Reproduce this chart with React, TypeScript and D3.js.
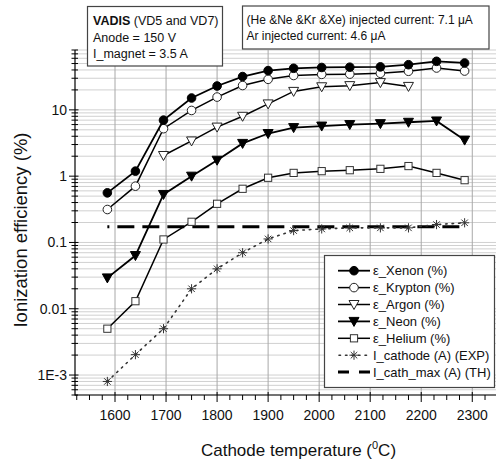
import React from "react";
import * as d3 from "d3";

const temps = [1585, 1640, 1695, 1750, 1800, 1850, 1900, 1950, 2005, 2060, 2120, 2175, 2230, 2285];
const argonTemps = [1695, 1750, 1800, 1850, 1900, 1950, 2005, 2060, 2120, 2175];
const xenon = [0.56, 1.19, 7.0, 15.1, 22.9, 31.8, 39.1, 42.4, 43.6, 44.0, 44.5, 48.0, 54.0, 51.0];
const krypton = [0.314, 0.706, 5.2, 9.8, 15.6, 23.3, 28.9, 33.0, 34.3, 34.6, 35.6, 38.2, 42.8, 38.5];
const argon = [2.05, 3.4, 5.5, 8.0, 12.3, 19.0, 22.3, 23.2, 25.8, 22.6];
const neon = [0.0292, 0.0634, 0.53, 1.0, 1.74, 3.12, 4.4, 5.4, 5.7, 6.0, 6.2, 6.5, 6.8, 3.5];
const helium = [0.005, 0.013, 0.111, 0.205, 0.383, 0.645, 0.946, 1.12, 1.19, 1.23, 1.29, 1.42, 1.12, 0.87];
const iCathode = [0.0008, 0.00203, 0.005, 0.02, 0.04, 0.07, 0.113, 0.151, 0.16, 0.166, 0.166, 0.166, 0.186, 0.198];
const iCathMax = [0.172, 0.172];
const iCathMaxTemps = [1585, 2285];

const xTicks = [1600, 1700, 1800, 1900, 2000, 2100, 2200, 2300];
const yTicks = [0.001, 0.01, 0.1, 1, 10];
const yTickLabels = ["1E-3", "0.01", "0.1", "1", "10"];

const legendLabels = [
  "ε_Xenon (%)",
  "ε_Krypton (%)",
  "ε_Argon (%)",
  "ε_Neon (%)",
  "ε_Helium (%)",
  "I_cathode (A) (EXP)",
  "I_cath_max (A) (TH)",
];

const FONT = "'Liberation Sans', Arial, Helvetica, sans-serif";

type MarkerKind = "circleFilled" | "circleOpen" | "triOpen" | "triFilled" | "squareOpen" | "star";

function Marker({ kind, x, y }: { kind: MarkerKind; x: number; y: number }) {
  if (kind === "circleFilled")
    return <circle cx={x} cy={y} r={4.3} fill="#000" stroke="#000" strokeWidth={1} />;
  if (kind === "circleOpen")
    return <circle cx={x} cy={y} r={4.3} fill="#fff" stroke="#222" strokeWidth={1} />;
  if (kind === "triOpen" || kind === "triFilled") {
    const p = `${x - 5},${y - 4} ${x + 5},${y - 4} ${x},${y + 5}`;
    return (
      <polygon
        points={p}
        fill={kind === "triFilled" ? "#000" : "#fff"}
        stroke={kind === "triFilled" ? "#000" : "#222"}
        strokeWidth={1}
      />
    );
  }
  if (kind === "squareOpen")
    return <rect x={x - 3.6} y={y - 3.6} width={7.2} height={7.2} fill="#fff" stroke="#333" strokeWidth={1} />;
  const r = 4.6;
  const d = r * Math.SQRT1_2;
  return (
    <g stroke="#333" strokeWidth={1}>
      <line x1={x - r} y1={y} x2={x + r} y2={y} />
      <line x1={x} y1={y - r} x2={x} y2={y + r} />
      <line x1={x - d} y1={y - d} x2={x + d} y2={y + d} />
      <line x1={x - d} y1={y + d} x2={x + d} y2={y - d} />
    </g>
  );
}

export default function App() {
  const W = 496;
  const H = 462;
  const left = 75;
  const right = 496;
  const top = 50;
  const bottom = 395;

  const x = d3.scaleLinear().domain([1521.6, 2346.5]).range([left, right]);
  const y = d3.scaleLog().domain([5e-4, 80]).range([bottom, top]);

  const line = d3
    .line<[number, number]>()
    .x((d) => x(d[0]))
    .y((d) => y(d[1]));

  const zip = (xs: number[], ys: number[]) => xs.map((t, i) => [t, ys[i]] as [number, number]);

  const series: { xs: number[]; ys: number[]; kind: MarkerKind; width: number }[] = [
    { xs: temps, ys: helium, kind: "squareOpen", width: 1.5 },
    { xs: temps, ys: neon, kind: "triFilled", width: 1.8 },
    { xs: argonTemps, ys: argon, kind: "triOpen", width: 1.5 },
    { xs: temps, ys: krypton, kind: "circleOpen", width: 1.5 },
    { xs: temps, ys: xenon, kind: "circleFilled", width: 1.8 },
  ];

  const minorVals: number[] = [];
  for (let e = -4; e <= 1; e++) {
    for (let m = 1; m <= 9; m++) {
      const v = m * Math.pow(10, e);
      if (v >= 5e-4 && v <= 80) minorVals.push(v);
    }
  }
  const xMinor = d3.range(1525, 2350, 25);

  const legendKinds: (MarkerKind | null)[] = ["circleFilled", "circleOpen", "triOpen", "triFilled", "squareOpen", "star", null];

  return (
    <svg width={W} height={H} style={{ display: "block", position: "absolute", left: 0, top: 0 }} fontFamily={FONT}>
      <rect x={0} y={0} width={W} height={H} fill="#fff" />
      {minorVals.map((v, i) => (
        <line key={"hg" + i} x1={left} x2={right} y1={y(v)} y2={y(v)} stroke="#d0d0d0" strokeWidth={1} />
      ))}
      {xTicks.map((t) => (
        <line key={"vg" + t} x1={x(t)} x2={x(t)} y1={top} y2={bottom} stroke="#a8a8a8" strokeWidth={1} />
      ))}

      <path
        d={line(zip(iCathMaxTemps, iCathMax)) || ""}
        fill="none"
        stroke="#000"
        strokeWidth={3}
        strokeDasharray="17 8"
        strokeDashoffset={15}
      />
      <path d={line(zip(temps, iCathode)) || ""} fill="none" stroke="#333" strokeWidth={1.6} strokeDasharray="1.5 5" strokeLinecap="round" />
      {temps.map((t, i) => (
        <Marker key={"ic" + i} kind="star" x={x(t)} y={y(iCathode[i])} />
      ))}

      {series.map((s, si) => (
        <g key={"s" + si}>
          <path d={line(zip(s.xs, s.ys)) || ""} fill="none" stroke="#000" strokeWidth={s.width} />
          {s.xs.map((t, i) => (
            <Marker key={i} kind={s.kind} x={x(t)} y={y(s.ys[i])} />
          ))}
        </g>
      ))}

      <line x1={left} x2={left} y1={top} y2={bottom + 0.5} stroke="#000" strokeWidth={1.2} />
      <line x1={left} x2={right} y1={bottom} y2={bottom} stroke="#000" strokeWidth={1.2} />
      {minorVals.map((v, i) => {
        const major = Math.abs(Math.log10(v) - Math.round(Math.log10(v))) < 1e-9;
        return (
          <line
            key={"yt" + i}
            x1={left - (major ? 6 : 3.5)}
            x2={left + (major ? 3.5 : 3)}
            y1={y(v)}
            y2={y(v)}
            stroke="#000"
            strokeWidth={1}
          />
        );
      })}
      {xMinor.map((t) => {
        const major = t % 100 === 0;
        return (
          <line key={"xt" + t} x1={x(t)} x2={x(t)} y1={bottom - (major ? 3 : 0)} y2={bottom + (major ? 7 : 5)} stroke="#000" strokeWidth={1} />
        );
      })}
      {xTicks.map((t) => (
        <text key={"xl" + t} x={x(t)} y={420} textAnchor="middle" fontSize={14} fill="#111">
          {t}
        </text>
      ))}
      {yTicks.map((v, i) => (
        <text key={"yl" + i} x={67} y={y(v) + 5} textAnchor="end" fontSize={14} fill="#111">
          {yTickLabels[i]}
        </text>
      ))}
      <text x={(left + right) / 2 + 13} y={456} textAnchor="middle" fontSize={17} fill="#111">
        Cathode temperature (<tspan fontSize={11} dy={-7}>0</tspan>
        <tspan dy={7}>C)</tspan>
      </text>
      <text transform={`translate(27,230) rotate(-90)`} textAnchor="middle" fontSize={18.5} fill="#111">
        Ionization efficiency (%)
      </text>

      <rect x={87.5} y={6.5} width={135} height={59.5} fill="#fff" stroke="#444" strokeWidth={1.2} />
      <text x={93} y={25} fontSize={12.5} fill="#111">
        <tspan fontWeight="bold">VADIS</tspan> (VD5 and VD7)
      </text>
      <text x={93} y={41.5} fontSize={12.5} fill="#111">
        Anode = 150 V
      </text>
      <text x={93} y={57.5} fontSize={12.5} fill="#111">
        I_magnet = 3.5 A
      </text>

      <rect x={242.5} y={6} width={246.5} height={43} fill="#fff" stroke="#444" strokeWidth={1.2} />
      <text x={246.5} y={23.5} fontSize={12} fill="#111">
        (He &amp;Ne &amp;Kr &amp;Xe) injected current: 7.1 μA
      </text>
      <text x={246.5} y={39.5} fontSize={12} fill="#111">
        Ar injected current: 4.6 μA
      </text>

      <rect x={324.5} y={255.5} width={170} height={132} fill="#fff" stroke="#444" strokeWidth={1.2} />
      {legendLabels.map((lab, i) => {
        const ly = 270.7 + i * 16.9;
        const k = legendKinds[i];
        let sample: React.ReactNode;
        if (i < 5) {
          sample = (
            <>
              <line x1={338} x2={370} y1={ly} y2={ly} stroke="#000" strokeWidth={i === 0 || i === 3 ? 1.8 : 1.5} />
              <Marker kind={k as MarkerKind} x={354} y={ly} />
            </>
          );
        } else if (i === 5) {
          sample = (
            <>
              <line x1={339} x2={370} y1={ly} y2={ly} stroke="#333" strokeWidth={1.6} strokeDasharray="1.5 5" strokeLinecap="round" />
              <Marker kind="star" x={354} y={ly} />
            </>
          );
        } else {
          sample = <line x1={338} x2={370} y1={ly} y2={ly} stroke="#000" strokeWidth={3} strokeDasharray="11 10 11" />;
        }
        return (
          <g key={"lg" + i}>
            {sample}
            <text x={373} y={ly + 4.5} fontSize={13} fill="#111">
              {lab}
            </text>
          </g>
        );
      })}
    </svg>
  );
}
